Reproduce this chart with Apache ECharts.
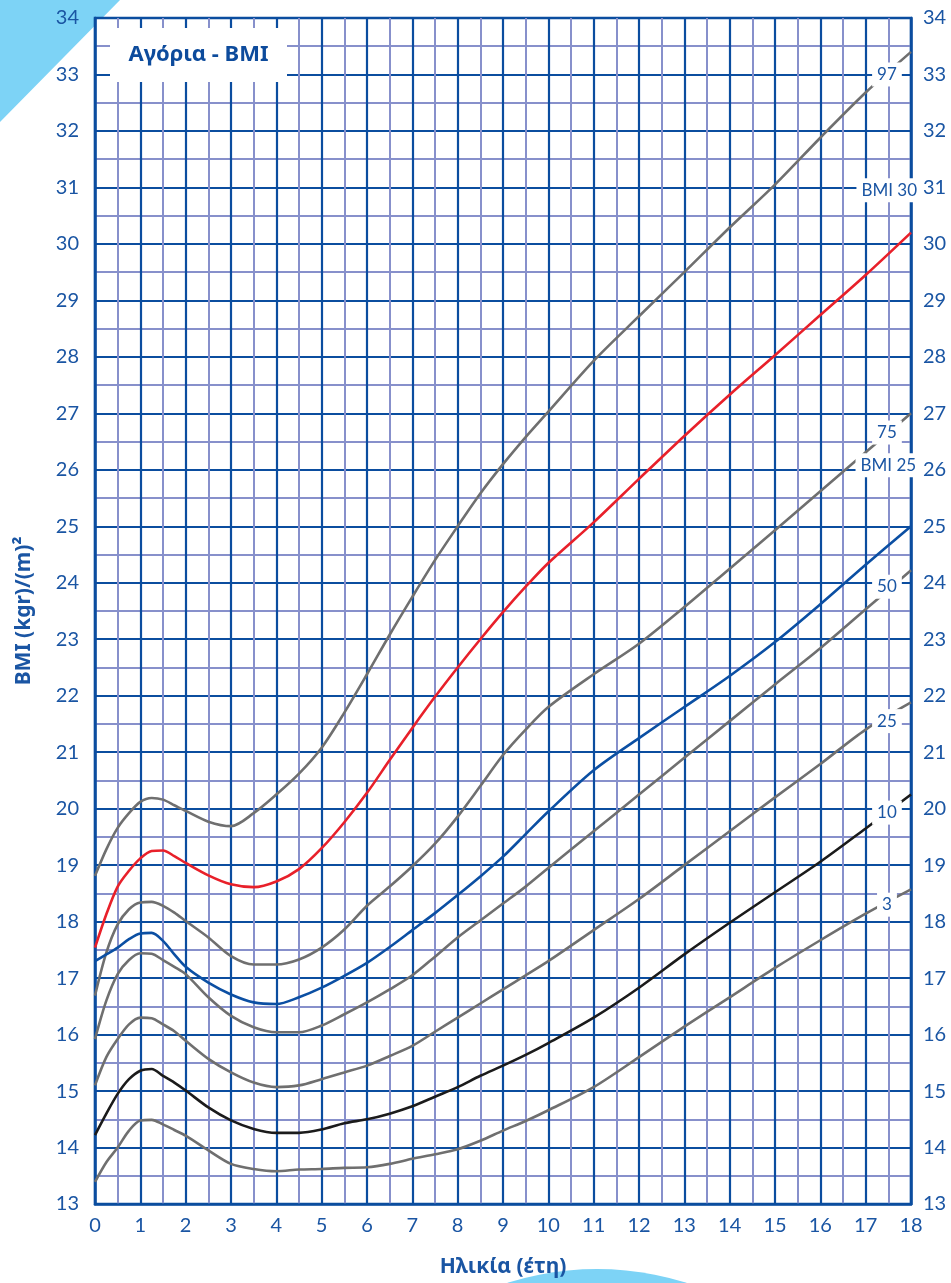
<!DOCTYPE html>
<html>
<head>
<meta charset="utf-8">
<script src="https://cdn.jsdelivr.net/npm/echarts@6/dist/echarts.min.js"></script>
<style>
html,body{margin:0;padding:0;background:#fff;}
#chart{width:951px;height:1283px;}
</style>
</head>
<body>
<div id="chart"></div>
<script>
// ---- data ----
const ages = [0,0.25,0.5,0.75,1,1.25,1.5,1.75,2,2.5,3,3.5,4,4.5,5,5.5,6,6.5,7,7.5,8,8.5,9,9.5,10,11,12,13,14,15,16,17,18];
const p97   = [18.81,19.28,19.66,19.92,20.12,20.19,20.16,20.06,19.96,19.77,19.69,19.92,20.25,20.62,21.08,21.7,22.38,23.08,23.75,24.4,25.0,25.58,26.1,26.58,27.03,27.93,28.72,29.5,30.29,31.05,31.88,32.68,33.4];
const bmi30 = [17.54,18.13,18.62,18.9,19.12,19.25,19.26,19.16,19.04,18.82,18.66,18.61,18.71,18.93,19.3,19.76,20.28,20.86,21.43,21.98,22.5,23.0,23.48,23.93,24.35,25.07,25.84,26.6,27.33,28.03,28.74,29.45,30.2];
const p75   = [16.69,17.45,17.95,18.22,18.34,18.35,18.28,18.16,18.01,17.72,17.39,17.24,17.24,17.33,17.54,17.86,18.28,18.62,18.98,19.38,19.86,20.4,20.95,21.4,21.8,22.38,22.92,23.57,24.25,24.93,25.62,26.31,27.0];
const bmi25 = [17.3,17.42,17.54,17.69,17.79,17.8,17.66,17.42,17.2,16.92,16.71,16.57,16.54,16.66,16.83,17.04,17.27,17.55,17.85,18.15,18.47,18.8,19.15,19.55,19.95,20.68,21.25,21.8,22.35,22.95,23.62,24.32,25.0];
const p50   = [15.92,16.6,17.07,17.32,17.44,17.43,17.32,17.2,17.07,16.66,16.33,16.13,16.04,16.04,16.16,16.36,16.57,16.8,17.05,17.38,17.72,18.02,18.32,18.62,18.95,19.6,20.25,20.9,21.55,22.2,22.84,23.53,24.22];
const p25   = [15.1,15.6,15.92,16.18,16.3,16.29,16.18,16.06,15.89,15.57,15.33,15.15,15.07,15.1,15.21,15.33,15.45,15.62,15.8,16.05,16.3,16.55,16.8,17.05,17.3,17.85,18.4,19.0,19.6,20.2,20.79,21.4,21.88];
const p10   = [14.22,14.6,14.95,15.21,15.36,15.39,15.27,15.15,15.01,14.71,14.48,14.33,14.26,14.26,14.32,14.43,14.5,14.6,14.73,14.9,15.07,15.27,15.45,15.64,15.85,16.3,16.83,17.42,17.98,18.52,19.06,19.65,20.25];
const p3    = [13.39,13.74,14.0,14.3,14.48,14.49,14.41,14.31,14.21,13.95,13.71,13.62,13.58,13.61,13.62,13.64,13.65,13.71,13.8,13.88,13.97,14.12,14.3,14.47,14.66,15.07,15.6,16.14,16.66,17.18,17.67,18.14,18.57];

const curveNames = ['97','BMI 30','75','BMI 25','50','25','10','3'];
const labelTexts  = ['97','BMI 30','75','BMI 25','50','25','10','3'];
const labelAges   = [17.47,17.52,17.47,17.5,17.47,17.47,17.47,17.47];
const labelValues = [33.0,30.95,26.66,26.08,23.93,21.55,19.93,18.3];

const titleText = 'Αγόρια - BMI';
const xName = 'Ηλικία (έτη)';
const yName = 'BMI (kgr)/(m)²';

// ---- styles ----
const DARK = '#0b4d9f';
const LIGHT = '#8790cb';
const TXT = '#1a55a3';
const GREY = '#6f6f6f';

function pairs(vals){ return ages.map((a,i)=>[a, vals[i]]); }
function lineSeries(name, vals, color){
  return {name, type:'line', data: pairs(vals), smooth:0.3, showSymbol:false, symbol:'none',
    lineStyle:{color, width:2.6}, z:3, silent:true};
}

const chart = echarts.init(document.getElementById('chart'), null, {renderer:'canvas'});
const numFont = 'Lato, "Noto Sans", sans-serif';

const baseGraphic = [
  {type:'polygon', z:-10, shape:{points:[[0,0],[120,0],[102.3,18],[95,18],[95,25.4],[0,122]]}, style:{fill:'#7dd3f6'}},
  {type:'circle', z:-10, shape:{cx:597, cy:1565, r:296}, style:{fill:'#7dd3f6'}},
  {type:'rect', z:50, shape:{x:110, y:28, width:177, height:54}, style:{fill:'#fff'}},
  {type:'text', z:51, x:198.5, y:55, style:{text:titleText, fill:'#0d4b9c', font:'bold 22px "Noto Sans", sans-serif', textAlign:'center', textVerticalAlign:'middle'}}
];

const option = {
  animation:false,
  backgroundColor:'#fff',
  grid:{left:95, right:40, top:18, bottom:76, show:true, backgroundColor:'#fff', borderColor:DARK, borderWidth:2.5},
  xAxis:{
    type:'value', min:0, max:18, interval:1,
    name:xName, nameLocation:'middle', nameGap:53,
    nameTextStyle:{color:TXT, fontSize:21, fontWeight:'bold', fontFamily:'"Noto Sans", sans-serif'},
    axisLine:{show:true, lineStyle:{color:DARK, width:2.5}},
    axisTick:{show:false},
    axisLabel:{color:TXT, fontSize:20, margin:12, fontFamily:numFont},
    splitLine:{show:true, lineStyle:{color:DARK, width:2.2}},
    minorTick:{show:false, splitNumber:2},
    minorSplitLine:{show:true, lineStyle:{color:LIGHT, width:2}}
  },
  yAxis:[{
    type:'value', min:13, max:34, interval:1, position:'left',
    name:yName, nameLocation:'middle', nameGap:60, nameRotate:90,
    nameTextStyle:{color:TXT, fontSize:21, fontWeight:'bold', fontFamily:'"Noto Sans", sans-serif'},
    axisLine:{show:true, lineStyle:{color:DARK, width:2.5}},
    axisTick:{show:false},
    axisLabel:{color:TXT, fontSize:20, margin:16, fontFamily:numFont},
    splitLine:{show:true, lineStyle:{color:DARK, width:2.2}},
    minorTick:{show:false, splitNumber:2},
    minorSplitLine:{show:true, lineStyle:{color:LIGHT, width:2}}
  },{
    type:'value', min:13, max:34, interval:1, position:'right',
    axisLine:{show:true, lineStyle:{color:DARK, width:2.5}},
    axisTick:{show:false},
    axisLabel:{color:TXT, fontSize:20, margin:12, fontFamily:numFont},
    splitLine:{show:false}
  }],
  series:[
    lineSeries(curveNames[0], p97, GREY),
    lineSeries(curveNames[1], bmi30, '#e8202a'),
    lineSeries(curveNames[2], p75, GREY),
    lineSeries(curveNames[3], bmi25, '#0b4fa3'),
    lineSeries(curveNames[4], p50, GREY),
    lineSeries(curveNames[5], p25, GREY),
    lineSeries(curveNames[6], p10, '#1b1b1b'),
    lineSeries(curveNames[7], p3, GREY)
  ],
  graphic: baseGraphic
};
chart.setOption(option);

// curve labels placed through the chart's own scales
const labelGraphics = labelTexts.map((t,i)=>{
  const p = chart.convertToPixel({xAxisIndex:0, yAxisIndex:0}, [labelAges[i], labelValues[i]]);
  return {type:'text', z:60, x:p[0], y:p[1],
    style:{text:t, fill:TXT, font:'17px ' + numFont, align:'center', verticalAlign:'middle',
      backgroundColor:'#ffffff', padding:[4,5,3,5]}};
});
chart.setOption({graphic: baseGraphic.concat(labelGraphics)});
</script>
</body>
</html>
